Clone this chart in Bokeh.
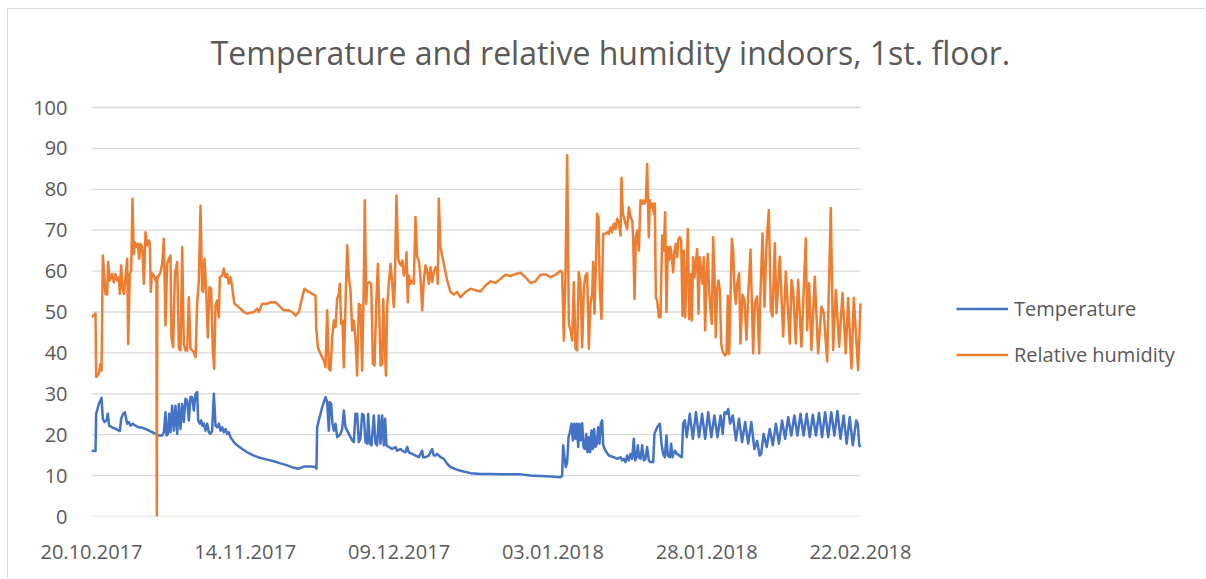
import pandas as pd
from bokeh.plotting import figure
from bokeh.models import (ColumnDataSource, Range1d, FixedTicker, DatetimeTickFormatter,
                          Legend, LegendItem, Label)
from bokeh.embed import file_html
from bokeh.resources import INLINE

# ---------------- data ----------------
start_date = "2017-10-20"
end_date = "2018-02-22"
title_text = "Temperature and relative humidity indoors, 1st. floor."
series_names = ["Temperature", "Relative humidity"]
y_ticks = [0, 10, 20, 30, 40, 50, 60, 70, 80, 90, 100]
x_tick_dates = ["2017-10-20", "2017-11-14", "2017-12-09", "2018-01-03", "2018-01-28", "2018-02-22"]

# (days since start_date, temperature °C)
temp_points = [
    (0.00, 16.1), (0.65, 16.0), (0.76, 25.1), (1.19, 27.5), (1.63, 29.0), (1.84, 23.9), (2.11, 23.1),
    (2.44, 23.5), (2.65, 25.1), (2.87, 22.2), (3.36, 21.8), (3.90, 21.4), (4.61, 20.9), (4.82, 23.9),
    (5.15, 25.1), (5.42, 25.5), (5.80, 22.7), (6.07, 23.1), (6.34, 22.2), (6.72, 22.7), (7.15, 22.2),
    (7.69, 21.8), (8.24, 21.7), (8.78, 21.4), (9.32, 21.0), (9.86, 20.6), (10.40, 20.2), (10.94, 19.8),
    (11.49, 19.8), (11.76, 20.6), (12.03, 25.5), (12.19, 19.8), (12.41, 20.2), (12.62, 25.1), (12.84, 20.6),
    (13.11, 27.1), (13.38, 21.0), (13.65, 27.1), (13.93, 20.2), (14.20, 27.5), (14.47, 21.4), (14.74, 27.5),
    (15.01, 23.1), (15.28, 28.8), (15.55, 28.4), (15.82, 23.5), (16.09, 29.2), (16.36, 29.2), (16.64, 25.9),
    (16.91, 30.0), (17.18, 30.4), (17.34, 23.5), (17.61, 22.7), (17.83, 23.5), (18.04, 22.2), (18.26, 22.7),
    (18.53, 21.0), (18.80, 22.7), (19.07, 20.6), (19.34, 20.2), (19.61, 21.0), (19.89, 30.0), (20.16, 22.2),
    (20.43, 21.8), (20.70, 22.7), (20.97, 21.0), (21.24, 21.8), (21.51, 20.6), (21.78, 21.4), (22.05, 20.2),
    (22.32, 20.6), (22.59, 19.4), (23.14, 18.2), (23.68, 17.4), (24.49, 16.5), (25.30, 15.7), (26.39, 14.9),
    (27.47, 14.3), (28.55, 13.9), (29.64, 13.5), (30.72, 13.0), (31.81, 12.5), (32.89, 11.9), (33.70, 11.7),
    (34.51, 12.2), (35.60, 12.2), (36.41, 12.1), (36.57, 11.7), (36.68, 21.8), (36.95, 23.5), (37.49, 26.7),
    (38.04, 29.2), (38.31, 28.0), (38.58, 21.0), (38.74, 28.0), (38.96, 27.5), (39.17, 22.7), (39.39, 21.0),
    (39.66, 22.7), (39.93, 19.4), (40.20, 19.8), (40.47, 20.2), (40.75, 21.4), (41.02, 25.9), (41.29, 21.8),
    (41.56, 21.0), (41.83, 20.2), (42.10, 19.4), (42.37, 18.6), (42.64, 18.2), (42.91, 25.1), (43.18, 25.1),
    (43.45, 18.2), (43.72, 19.0), (43.99, 25.1), (44.26, 24.7), (44.54, 18.2), (44.81, 17.8), (44.97, 25.1),
    (45.24, 17.8), (45.51, 17.4), (45.89, 24.7), (46.16, 17.8), (46.43, 17.4), (46.71, 24.7), (46.98, 17.8),
    (47.25, 24.7), (47.52, 17.4), (47.73, 23.9), (47.95, 17.4), (48.33, 17.0), (48.87, 16.5), (49.41, 17.0),
    (49.68, 16.1), (50.23, 16.5), (50.50, 16.1), (51.04, 15.7), (51.31, 17.0), (51.58, 15.7), (52.12, 15.3),
    (52.67, 14.9), (53.21, 14.5), (53.48, 15.3), (53.75, 16.1), (53.91, 14.5), (54.29, 14.5), (54.83, 14.9),
    (55.10, 15.7), (55.37, 16.5), (55.64, 14.9), (55.92, 14.9), (56.19, 15.3), (56.73, 14.5), (57.27, 14.1),
    (57.81, 12.9), (58.35, 12.1), (59.44, 11.4), (59.98, 11.2), (61.61, 10.6), (63.23, 10.4), (64.86, 10.4),
    (66.48, 10.3), (68.11, 10.3), (69.73, 10.3), (71.36, 10.0), (72.98, 9.9), (74.61, 9.8), (76.23, 9.6),
    (76.50, 10.0), (76.67, 17.4), (76.88, 14.5), (77.10, 12.1), (77.32, 13.3), (77.54, 19.4), (77.75, 20.6),
    (78.02, 22.7), (78.24, 18.6), (78.46, 22.7), (78.67, 19.0), (78.89, 22.7), (79.11, 17.0), (79.32, 22.7),
    (79.54, 18.6), (79.76, 22.8), (79.97, 17.0), (80.19, 16.5), (80.41, 20.2), (80.62, 15.7), (80.84, 19.4),
    (81.06, 15.7), (81.27, 21.0), (81.49, 16.5), (81.71, 21.4), (81.92, 17.0), (82.14, 17.8), (82.36, 21.8),
    (82.57, 17.8), (82.79, 22.7), (83.01, 23.5), (83.17, 17.4), (83.55, 16.1), (84.09, 14.9), (84.90, 14.5),
    (85.45, 14.1), (85.99, 14.5), (86.26, 13.7), (86.53, 14.1), (86.80, 13.3), (87.07, 14.9), (87.34, 13.7),
    (87.61, 15.3), (87.88, 14.1), (88.15, 19.0), (88.37, 13.7), (88.59, 14.5), (88.80, 17.4), (89.02, 14.5),
    (89.24, 14.1), (89.51, 17.4), (89.78, 13.7), (90.05, 14.1), (90.32, 17.0), (90.59, 13.7), (90.86, 13.3),
    (91.30, 13.3), (91.51, 20.2), (91.95, 21.8), (92.38, 22.7), (92.65, 17.8), (92.92, 15.3), (93.19, 14.5),
    (93.46, 19.8), (93.68, 14.9), (94.01, 14.5), (94.22, 17.8), (94.44, 14.5), (94.66, 15.7), (94.87, 16.1),
    (95.09, 15.3), (95.31, 15.3), (95.52, 14.9), (95.96, 14.5), (96.17, 22.7), (96.45, 23.5), (96.75, 19.4),
    (97.25, 25.1), (97.75, 19.0), (98.25, 25.5), (98.75, 19.4), (99.25, 25.1), (99.75, 19.0),
    (100.25, 25.5), (100.75, 19.4), (101.25, 24.7), (101.75, 19.4), (102.25, 24.7), (102.60, 20.2),
    (102.90, 25.5), (103.20, 25.1), (103.50, 26.3), (103.80, 22.7), (104.25, 24.7), (104.75, 18.6),
    (105.25, 23.9), (105.75, 18.2), (106.25, 23.1), (106.75, 17.8), (107.25, 23.1), (107.75, 16.5),
    (108.20, 18.5), (108.60, 14.9), (108.85, 15.3), (109.25, 20.2), (109.75, 17.0), (110.25, 21.4),
    (110.75, 17.4), (111.25, 22.7), (111.75, 17.8), (112.25, 23.5), (112.75, 19.0), (113.25, 24.3),
    (113.75, 19.8), (114.25, 24.7), (114.75, 19.8), (115.25, 25.1), (115.75, 19.8), (116.25, 25.1),
    (116.75, 19.4), (117.25, 24.9), (117.75, 19.8), (118.25, 25.3), (118.75, 19.4), (119.25, 25.5),
    (119.75, 19.4), (120.25, 25.5), (120.75, 19.8), (121.25, 25.8), (121.75, 19.0), (122.25, 24.7),
    (122.75, 17.8), (123.25, 24.3), (123.75, 17.4), (124.30, 23.5), (124.55, 22.7), (124.80, 17.4),
    (125.00, 17.0),
]

# (days since start_date, relative humidity %)
hum_points = [
    (0.00, 48.7), (0.65, 49.6), (0.76, 34.1), (1.19, 34.9), (1.46, 37.3), (1.63, 35.7), (1.84, 63.8),
    (2.28, 54.4), (2.55, 54.3), (2.71, 62.2), (2.98, 57.7), (3.36, 59.3), (3.63, 57.3), (3.90, 59.3),
    (4.17, 57.7), (4.44, 58.5), (4.61, 54.4), (4.82, 61.4), (5.04, 56.1), (5.26, 54.4), (5.53, 58.5),
    (5.80, 63.0), (5.96, 42.2), (6.23, 59.3), (6.45, 60.1), (6.66, 77.7), (6.88, 64.2), (7.04, 67.1),
    (7.32, 65.9), (7.53, 66.7), (7.75, 63.0), (7.97, 66.7), (8.24, 65.9), (8.51, 56.9), (8.78, 69.5),
    (9.05, 66.3), (9.32, 67.5), (9.48, 66.7), (9.64, 54.9), (9.81, 59.5), (10.13, 58.9), (10.40, 57.7),
    (10.55, 58.5), (10.62, 0.0), (10.70, 58.1), (10.94, 58.9), (11.22, 59.7), (11.49, 61.8), (11.76, 67.9),
    (12.03, 46.7), (12.30, 61.8), (12.57, 63.0), (12.84, 63.8), (13.00, 43.8), (13.28, 41.4), (13.55, 59.3),
    (13.93, 62.2), (14.20, 41.0), (14.47, 40.6), (14.74, 65.9), (15.01, 42.2), (15.28, 40.6), (15.55, 40.6),
    (15.82, 53.6), (16.09, 41.0), (16.36, 40.6), (16.64, 40.2), (16.91, 39.0), (17.18, 52.4), (17.45, 57.7),
    (17.72, 76.0), (17.99, 55.3), (18.15, 54.9), (18.37, 63.0), (18.64, 55.3), (18.91, 43.8), (19.18, 56.1),
    (19.45, 55.7), (19.72, 40.6), (19.94, 36.1), (20.16, 51.6), (20.43, 52.8), (20.70, 48.7), (20.86, 58.5),
    (21.24, 58.9), (21.51, 60.6), (21.78, 58.5), (22.05, 59.3), (22.32, 56.9), (22.59, 58.5), (22.86, 56.1),
    (23.24, 52.0), (23.95, 51.2), (24.76, 50.0), (25.30, 49.6), (26.39, 50.0), (26.93, 50.8), (27.20, 50.0),
    (27.74, 52.0), (28.55, 52.0), (29.10, 52.4), (29.91, 52.4), (30.45, 51.6), (31.26, 50.4), (32.08, 50.4),
    (32.62, 50.0), (33.17, 49.1), (33.71, 50.0), (34.25, 53.6), (34.62, 55.7), (35.33, 54.9), (36.41, 54.0),
    (36.52, 46.3), (36.79, 41.4), (37.22, 39.8), (37.77, 38.1), (38.04, 36.5), (38.31, 50.4), (38.58, 36.1),
    (38.85, 35.7), (39.12, 43.8), (39.39, 47.9), (39.66, 46.3), (39.93, 53.2), (40.20, 54.4), (40.37, 56.9),
    (40.58, 47.1), (40.80, 47.9), (41.02, 36.5), (41.29, 52.0), (41.56, 66.3), (41.83, 58.5), (42.10, 55.3),
    (42.37, 45.5), (42.64, 47.9), (42.91, 43.4), (43.18, 34.5), (43.45, 52.0), (43.72, 51.6), (43.99, 35.7),
    (44.26, 56.9), (44.43, 77.3), (44.65, 52.0), (44.81, 56.9), (45.14, 57.3), (45.47, 56.9), (45.74, 37.3),
    (46.01, 36.9), (46.28, 52.0), (46.55, 61.8), (46.82, 47.1), (46.99, 36.9), (47.26, 37.3), (47.42, 53.2),
    (47.64, 43.4), (47.86, 34.5), (48.06, 51.2), (48.33, 56.9), (48.60, 61.8), (48.87, 57.3), (49.14, 51.2),
    (49.30, 56.5), (49.57, 78.5), (49.84, 63.0), (50.11, 61.8), (50.33, 61.4), (50.55, 62.6), (50.76, 58.9),
    (51.03, 60.1), (51.20, 64.6), (51.42, 52.4), (51.58, 58.9), (51.85, 56.9), (52.12, 57.7), (52.39, 56.9),
    (52.66, 73.2), (52.93, 63.4), (53.20, 62.6), (53.48, 58.5), (53.75, 50.4), (54.02, 57.7), (54.29, 61.4),
    (54.56, 60.1), (54.83, 56.9), (55.10, 61.0), (55.37, 57.3), (55.64, 59.7), (55.91, 61.0), (56.18, 60.1),
    (56.29, 56.9), (56.45, 77.7), (56.72, 65.9), (57.27, 61.8), (57.81, 57.7), (58.35, 54.9), (58.89, 54.3),
    (59.44, 54.9), (59.98, 53.6), (60.79, 54.9), (61.61, 55.7), (62.42, 55.3), (63.23, 55.0), (64.04, 56.5),
    (64.86, 57.5), (65.67, 57.1), (66.48, 58.1), (67.29, 59.1), (68.11, 58.8), (68.92, 59.3), (69.73, 59.6),
    (70.55, 58.5), (71.36, 57.1), (72.17, 57.5), (72.98, 59.1), (73.80, 59.2), (74.61, 58.5), (75.42, 59.1),
    (76.23, 60.1), (76.50, 59.7), (76.78, 43.0), (77.05, 59.7), (77.32, 88.3), (77.59, 47.1), (77.86, 45.5),
    (78.13, 43.0), (78.40, 57.3), (78.67, 41.0), (78.94, 40.6), (79.21, 59.7), (79.48, 56.9), (79.76, 41.4),
    (80.03, 56.1), (80.30, 58.9), (80.57, 59.5), (80.84, 41.0), (81.11, 52.0), (81.38, 54.4), (81.54, 62.2),
    (81.76, 49.6), (81.98, 61.0), (82.19, 74.0), (82.41, 73.2), (82.63, 55.3), (82.90, 48.3), (83.17, 69.1),
    (83.55, 69.1), (83.82, 69.5), (84.09, 69.1), (84.36, 70.7), (84.63, 69.5), (84.90, 71.6), (85.17, 70.3),
    (85.45, 72.8), (85.72, 72.0), (85.99, 68.7), (86.15, 82.8), (86.37, 74.0), (86.53, 73.2), (86.80, 71.6),
    (87.07, 70.3), (87.35, 75.6), (87.62, 73.2), (87.89, 72.4), (88.05, 67.9), (88.27, 53.2), (88.48, 68.3),
    (88.70, 69.9), (88.97, 65.0), (89.24, 77.3), (89.51, 76.5), (89.67, 77.3), (89.89, 76.5), (90.11, 77.3),
    (90.32, 86.2), (90.59, 68.3), (90.76, 77.3), (90.97, 75.6), (91.19, 76.5), (91.41, 74.0), (91.57, 76.5),
    (91.73, 53.6), (91.95, 52.8), (92.22, 48.7), (92.49, 48.7), (92.76, 68.7), (93.03, 65.0), (93.25, 74.4),
    (93.46, 50.0), (93.68, 65.9), (93.90, 62.6), (94.11, 65.9), (94.33, 63.4), (94.55, 59.7), (94.76, 65.0),
    (94.98, 66.7), (95.20, 63.4), (95.41, 67.9), (95.63, 68.3), (95.85, 67.5), (96.07, 49.1), (96.28, 65.0),
    (96.50, 48.7), (96.72, 59.3), (96.93, 70.3), (97.15, 48.3), (97.37, 59.3), (97.58, 47.9), (97.80, 63.4),
    (98.02, 58.5), (98.23, 61.8), (98.45, 65.4), (98.67, 49.6), (98.88, 63.4), (99.10, 60.1), (99.32, 56.9),
    (99.53, 63.4), (99.75, 45.5), (99.97, 58.5), (100.18, 64.2), (100.40, 55.3), (100.62, 50.4),
    (100.83, 47.1), (101.05, 68.3), (101.27, 58.5), (101.48, 43.8), (101.70, 55.3), (101.92, 57.7),
    (102.14, 55.3), (102.35, 42.2), (102.57, 40.6), (102.79, 39.8), (103.00, 39.4), (103.22, 39.8),
    (103.44, 54.0), (103.65, 39.8), (103.87, 53.6), (104.09, 67.9), (104.30, 65.0), (104.52, 55.3),
    (104.74, 52.0), (104.95, 57.0), (105.27, 59.5), (105.49, 42.3), (105.82, 54.2), (106.14, 52.9),
    (106.47, 43.2), (106.74, 53.8), (107.12, 65.2), (107.55, 39.9), (107.82, 52.1), (108.20, 53.8),
    (108.52, 39.9), (108.74, 54.6), (109.07, 69.2), (109.39, 51.3), (109.72, 66.8), (110.10, 74.9),
    (110.42, 50.5), (110.69, 48.9), (111.07, 66.8), (111.34, 49.7), (111.88, 63.5), (112.43, 44.0),
    (112.86, 59.9), (113.51, 42.3), (113.78, 57.8), (114.05, 55.4), (114.48, 42.3), (114.86, 57.8),
    (115.40, 41.5), (116.11, 68.0), (116.33, 45.6), (116.65, 57.0), (117.03, 40.7), (117.57, 58.6),
    (118.11, 39.9), (118.66, 51.3), (119.04, 49.7), (119.58, 37.9), (120.17, 75.4), (120.55, 40.7),
    (120.99, 55.4), (121.53, 41.5), (122.07, 54.6), (122.61, 39.9), (122.99, 53.4), (123.53, 36.2),
    (123.91, 53.4), (124.62, 35.8), (125.00, 52.1),
]

temp_colour = "#4472C4"
hum_colour = "#ED7D31"
text_colour = "#595959"
grid_colour = "#D9D9D9"
font_name = "Open Sans"

# ---------------- layout (pixels inside the figure) ----------------
W, H = 1198, 570
frame_left = 83          # left edge of the plotting area
data_right = 852         # where the last date sits
data_top = 98            # where y = 100 sits
frame_bottom = 507       # where y = 0 sits

t0 = pd.Timestamp(start_date)
t1 = pd.Timestamp(end_date)
span = t1 - t0
# the frame runs to the right edge and the top edge so that title and legend are not clipped
x_end = t0 + span * ((W - frame_left) / (data_right - frame_left))
y_top = y_ticks[-1] * frame_bottom / (frame_bottom - data_top)


def to_source(points):
    days = [d for d, _ in points]
    vals = [v for _, v in points]
    xs = t0 + pd.to_timedelta(days, unit="D")
    return ColumnDataSource(dict(x=xs, y=vals))


p = figure(width=W, height=H, x_axis_type="datetime", output_backend="svg",
           toolbar_location=None,
           x_range=Range1d(t0, x_end), y_range=Range1d(0, y_top),
           min_border_left=frame_left, min_border_right=0, min_border_top=0,
           min_border_bottom=H - frame_bottom)
p.styles = {"margin-left": "7px", "margin-top": "8px",
            "border-left": "1px solid #D9D9D9", "border-top": "1px solid #D9D9D9"}
p.outline_line_color = None
p.background_fill_color = "white"
p.border_fill_color = "white"
p.title.text = ""
p.title.visible = False
p.xgrid.visible = False
p.ygrid.visible = False

# horizontal gridlines at the y ticks, spanning the date range only
p.segment(x0=[t0] * len(y_ticks), x1=[t1] * len(y_ticks), y0=y_ticks, y1=y_ticks,
          line_color=grid_colour, line_width=1.3)

r_t = p.line("x", "y", source=to_source(temp_points), line_color=temp_colour, line_width=2.5,
             line_join="round")
r_h = p.line("x", "y", source=to_source(hum_points), line_color=hum_colour, line_width=2.5,
             line_join="round")

for ax in (p.xaxis[0], p.yaxis[0]):
    ax.axis_line_color = None
    ax.major_tick_line_color = None
    ax.minor_tick_line_color = None
    ax.major_tick_out = 0
    ax.major_tick_in = 0
    ax.major_label_text_font = font_name
    ax.major_label_text_font_size = "20px"
    ax.major_label_text_color = text_colour

p.yaxis.ticker = FixedTicker(ticks=y_ticks)
p.yaxis.major_label_standoff = 24
p.xaxis.ticker = FixedTicker(ticks=[pd.Timestamp(d).value / 1e6 for d in x_tick_dates])
fmt = "%d.%m.%Y"
p.xaxis.formatter = DatetimeTickFormatter(
    microseconds=fmt, milliseconds=fmt, seconds=fmt, minsec=fmt, minutes=fmt, hourmin=fmt,
    hours=fmt, days=fmt, months=fmt, years=fmt, strip_leading_zeros=False)
p.xaxis.major_label_standoff = 28

# title
p.add_layout(Label(x=519, y=464, x_units="screen", y_units="screen", text=title_text,
                   text_align="center", text_baseline="alphabetic", text_font=font_name,
                   text_font_size="32px", text_color=text_colour))

legend = Legend(items=[LegendItem(label=series_names[0], renderers=[r_t]),
                       LegendItem(label=series_names[1], renderers=[r_h])],
                location=(865, 147), orientation="vertical")
legend.background_fill_alpha = 0
legend.border_line_color = None
legend.padding = 0
legend.margin = 0
legend.spacing = 17
legend.glyph_width = 52
legend.glyph_height = 29
legend.label_height = 29
legend.label_standoff = 6
legend.label_text_font = font_name
legend.label_text_font_size = "20px"
legend.label_text_color = text_colour
p.add_layout(legend)

open("out.html", "w").write(file_html(p, INLINE, "chart"))
